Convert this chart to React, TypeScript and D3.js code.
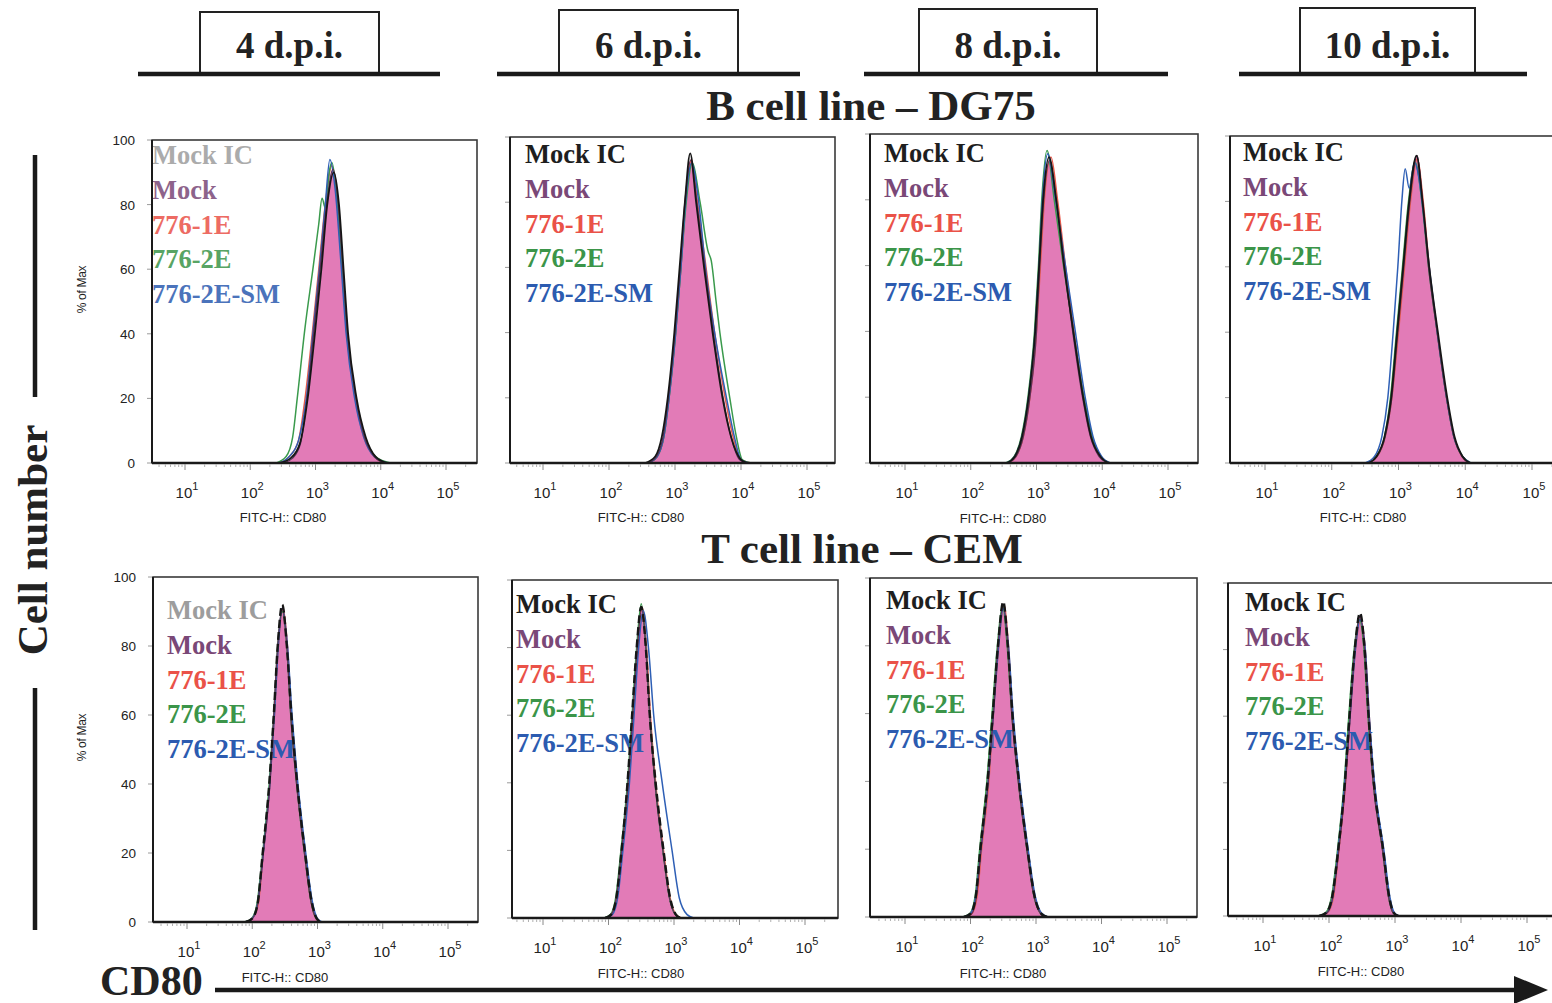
import React from "react";
import * as d3 from "d3";

type Pt = [number, number];

const DAYS = ["4 d.p.i.", "6 d.p.i.", "8 d.p.i.", "10 d.p.i."];
const ROW_TITLES = ["B cell line – DG75", "T cell line – CEM"];
const LEGEND = ["Mock IC", "Mock", "776-1E", "776-2E", "776-2E-SM"];
const Y_TICKS = [0, 20, 40, 60, 80, 100];
const X_EXPONENTS = [1, 2, 3, 4, 5];
const X_LABEL = "FITC-H:: CD80";
const Y_LABEL = "% of Max";

// ---- Histogram data: [log10(FITC-H), % of Max] ----
// B cell line – DG75
const B4_IC: Pt[] = [[2.45,0],[2.62,1.5],[2.76,6],[2.88,20],[2.99,40],[3.09,60],[3.18,80],[3.28,90],[3.36,80],[3.43,60],[3.5,40],[3.63,20],[3.77,8],[3.92,2],[4.1,0]];
const B4_MOCK: Pt[] = [[2.5,0],[2.65,1.5],[2.77,6],[2.87,20],[2.97,40],[3.07,60],[3.17,80],[3.27,91],[3.35,80],[3.42,60],[3.49,40],[3.62,20],[3.75,8],[3.9,2],[4.05,0]];
const B4_E1: Pt[] = [[2.45,0],[2.6,2],[2.74,7],[2.84,20],[2.95,40],[3.05,60],[3.15,80],[3.25,92],[3.33,82],[3.41,60],[3.48,40],[3.61,20],[3.74,8],[3.9,2],[4.05,0]];
const B4_E2: Pt[] = [[2.4,0],[2.55,2],[2.65,8],[2.72,20],[2.84,42],[2.96,60],[3.05,74],[3.1,82],[3.15,79],[3.21,90],[3.25,93],[3.32,84],[3.4,62],[3.48,40],[3.62,20],[3.76,8],[3.92,2],[4.15,0]];
const B4_SM: Pt[] = [[2.45,0],[2.6,2],[2.74,7],[2.86,20],[2.96,40],[3.06,60],[3.15,80],[3.22,94],[3.3,85],[3.39,62],[3.47,40],[3.6,20],[3.74,8],[3.9,2],[4.1,0]];

const B6_IC: Pt[] = [[2.55,0],[2.7,2],[2.8,8],[2.89,20],[2.99,40],[3.07,60],[3.15,80],[3.23,95],[3.32,80],[3.44,60],[3.57,40],[3.72,20],[3.85,8],[4.0,1],[4.1,0]];
const B6_MOCK: Pt[] = [[2.6,0],[2.72,2],[2.82,8],[2.9,20],[3.0,40],[3.08,60],[3.15,80],[3.24,93],[3.33,80],[3.45,60],[3.58,40],[3.73,20],[3.85,8],[3.98,1],[4.1,0]];
const B6_E1: Pt[] = [[2.6,0],[2.73,2],[2.83,8],[2.91,20],[3.01,40],[3.09,60],[3.16,80],[3.25,93],[3.34,80],[3.47,60],[3.6,40],[3.76,20],[3.88,8],[4.0,1],[4.15,0]];
const B6_E2: Pt[] = [[2.6,0],[2.73,2],[2.83,8],[2.91,20],[3.01,40],[3.09,60],[3.17,80],[3.26,92],[3.38,80],[3.5,65],[3.55,62],[3.62,50],[3.68,40],[3.83,20],[3.93,8],[4.02,1],[4.15,0]];
const B6_SM: Pt[] = [[2.6,0],[2.73,2],[2.83,8],[2.91,20],[3.01,40],[3.09,60],[3.16,80],[3.25,92],[3.36,80],[3.46,60],[3.6,40],[3.78,20],[3.9,8],[4.0,1],[4.12,0]];

const B8_IC: Pt[] = [[2.55,0],[2.67,2],[2.78,8],[2.88,20],[2.98,40],[3.04,60],[3.1,80],[3.19,93],[3.3,80],[3.42,60],[3.56,40],[3.71,20],[3.83,8],[3.97,2],[4.1,0]];
const B8_MOCK: Pt[] = [[2.57,0],[2.69,2],[2.8,8],[2.9,20],[3.0,40],[3.05,60],[3.11,80],[3.2,92],[3.3,80],[3.42,60],[3.55,40],[3.7,20],[3.82,8],[3.95,2],[4.08,0]];
const B8_E1: Pt[] = [[2.57,0],[2.69,2],[2.8,8],[2.9,20],[3.0,40],[3.06,60],[3.12,80],[3.22,93],[3.32,80],[3.44,60],[3.57,40],[3.72,20],[3.85,8],[3.98,2],[4.12,0]];
const B8_E2: Pt[] = [[2.53,0],[2.66,2],[2.77,8],[2.87,20],[2.97,40],[3.03,60],[3.08,80],[3.16,95],[3.27,80],[3.41,60],[3.56,40],[3.72,20],[3.85,8],[3.98,2],[4.12,0]];
const B8_SM: Pt[] = [[2.55,0],[2.67,2],[2.78,8],[2.88,20],[2.98,40],[3.04,60],[3.09,80],[3.17,94],[3.29,80],[3.44,60],[3.59,40],[3.74,20],[3.86,8],[3.99,2],[4.12,0]];

const B10_IC: Pt[] = [[2.55,0],[2.67,2],[2.79,8],[2.89,20],[2.98,40],[3.07,60],[3.16,80],[3.27,94],[3.36,80],[3.46,60],[3.59,40],[3.73,20],[3.84,8],[3.96,2],[4.08,0]];
const B10_MOCK: Pt[] = [[2.55,0],[2.68,2],[2.8,8],[2.9,20],[2.99,40],[3.08,60],[3.17,80],[3.28,94],[3.36,80],[3.45,60],[3.58,40],[3.72,20],[3.83,8],[3.95,2],[4.05,0]];
const B10_E1: Pt[] = [[2.55,0],[2.68,2],[2.8,8],[2.9,20],[3.0,40],[3.09,60],[3.18,80],[3.28,93],[3.37,80],[3.46,60],[3.58,40],[3.72,20],[3.83,8],[3.95,2],[4.06,0]];
const B10_E2: Pt[] = [[2.55,0],[2.67,2],[2.79,8],[2.88,20],[2.97,40],[3.06,60],[3.15,80],[3.25,92],[3.35,80],[3.45,60],[3.58,40],[3.72,20],[3.83,8],[3.96,2],[4.08,0]];
const B10_SM: Pt[] = [[2.5,0],[2.64,2],[2.75,8],[2.84,20],[2.92,40],[2.99,60],[3.05,80],[3.1,90],[3.16,84],[3.24,92],[3.3,88],[3.38,75],[3.46,60],[3.58,40],[3.72,20],[3.83,8],[3.96,2],[4.08,0]];

// T cell line – CEM
const T4_IC: Pt[] = [[1.9,0],[2.0,1],[2.08,5],[2.16,20],[2.26,40],[2.33,60],[2.39,80],[2.46,92],[2.53,80],[2.6,60],[2.69,40],[2.81,20],[2.91,6],[2.99,1],[3.06,0]];
const T4_MOCK: Pt[] = [[1.9,0],[2.0,1],[2.08,5],[2.17,20],[2.27,40],[2.33,60],[2.39,80],[2.46,91],[2.53,80],[2.59,60],[2.68,40],[2.8,20],[2.9,6],[2.98,1],[3.05,0]];
const T4_E1: Pt[] = [[1.9,0],[2.0,1],[2.09,5],[2.17,20],[2.27,40],[2.34,60],[2.4,80],[2.47,91],[2.54,80],[2.6,60],[2.69,40],[2.81,20],[2.9,6],[2.98,1],[3.05,0]];
const T4_E2: Pt[] = [[1.88,0],[1.99,1],[2.07,5],[2.16,20],[2.26,40],[2.33,60],[2.39,80],[2.46,90],[2.53,80],[2.59,60],[2.68,40],[2.8,20],[2.9,6],[2.98,1],[3.05,0]];
const T4_SM: Pt[] = [[1.9,0],[2.0,1],[2.08,5],[2.17,20],[2.27,40],[2.34,60],[2.4,80],[2.46,91],[2.54,80],[2.61,60],[2.7,40],[2.82,20],[2.92,6],[3.0,1],[3.07,0]];

const T6_IC: Pt[] = [[1.95,0],[2.04,1],[2.12,6],[2.2,20],[2.29,40],[2.36,60],[2.43,80],[2.5,92],[2.57,80],[2.63,60],[2.72,40],[2.84,20],[2.94,6],[3.03,1],[3.1,0]];
const T6_MOCK: Pt[] = [[1.95,0],[2.04,1],[2.12,6],[2.2,20],[2.3,40],[2.37,60],[2.44,80],[2.51,92],[2.57,80],[2.63,60],[2.71,40],[2.83,20],[2.93,6],[3.02,1],[3.1,0]];
const T6_E1: Pt[] = [[1.95,0],[2.05,1],[2.13,6],[2.21,20],[2.3,40],[2.37,60],[2.44,80],[2.51,92],[2.58,80],[2.64,60],[2.72,40],[2.84,20],[2.94,6],[3.03,1],[3.12,0]];
const T6_E2: Pt[] = [[1.93,0],[2.03,1],[2.11,6],[2.19,20],[2.29,40],[2.36,60],[2.43,80],[2.5,93],[2.57,80],[2.63,60],[2.71,40],[2.83,20],[2.93,6],[3.02,1],[3.1,0]];
const T6_SM: Pt[] = [[1.97,0],[2.06,1],[2.14,6],[2.22,20],[2.32,40],[2.39,60],[2.46,80],[2.53,91],[2.61,80],[2.69,60],[2.82,40],[2.97,20],[3.08,6],[3.2,1],[3.3,0]];

const T8_IC: Pt[] = [[1.9,0],[2.0,1],[2.08,6],[2.15,20],[2.26,40],[2.34,60],[2.42,80],[2.5,93],[2.57,80],[2.64,60],[2.74,40],[2.87,20],[2.98,6],[3.08,1],[3.17,0]];
const T8_MOCK: Pt[] = [[1.92,0],[2.02,1],[2.09,6],[2.16,20],[2.27,40],[2.35,60],[2.42,80],[2.5,92],[2.57,80],[2.63,60],[2.73,40],[2.86,20],[2.97,6],[3.07,1],[3.15,0]];
const T8_E1: Pt[] = [[1.92,0],[2.02,1],[2.1,6],[2.17,20],[2.28,40],[2.35,60],[2.43,80],[2.51,92],[2.58,80],[2.64,60],[2.74,40],[2.87,20],[2.98,6],[3.08,1],[3.16,0]];
const T8_E2: Pt[] = [[1.88,0],[1.99,1],[2.07,6],[2.14,20],[2.25,40],[2.33,60],[2.41,80],[2.49,92],[2.56,80],[2.63,60],[2.73,40],[2.86,20],[2.97,6],[3.07,1],[3.15,0]];
const T8_SM: Pt[] = [[1.9,0],[2.0,1],[2.08,6],[2.16,20],[2.27,40],[2.35,60],[2.43,80],[2.5,91],[2.58,80],[2.65,60],[2.75,40],[2.88,20],[2.99,6],[3.09,1],[3.18,0]];

const T10_IC: Pt[] = [[1.85,0],[1.96,1],[2.05,6],[2.14,20],[2.24,40],[2.31,60],[2.39,80],[2.47,91],[2.54,80],[2.6,60],[2.68,40],[2.82,20],[2.91,6],[2.98,1],[3.05,0]];
const T10_MOCK: Pt[] = [[1.86,0],[1.97,1],[2.06,6],[2.15,20],[2.25,40],[2.32,60],[2.39,80],[2.47,90],[2.54,80],[2.6,60],[2.67,40],[2.81,20],[2.9,6],[2.97,1],[3.04,0]];
const T10_E1: Pt[] = [[1.87,0],[1.98,1],[2.07,6],[2.15,20],[2.25,40],[2.32,60],[2.4,80],[2.48,89],[2.55,80],[2.61,60],[2.68,40],[2.82,20],[2.91,6],[2.98,1],[3.05,0]];
const T10_E2: Pt[] = [[1.84,0],[1.95,1],[2.04,6],[2.13,20],[2.23,40],[2.3,60],[2.38,80],[2.46,89],[2.53,80],[2.59,60],[2.67,40],[2.81,20],[2.9,6],[2.97,1],[3.04,0]];
const T10_SM: Pt[] = [[1.86,0],[1.97,1],[2.06,6],[2.14,20],[2.24,40],[2.32,60],[2.4,80],[2.47,89],[2.55,80],[2.61,60],[2.69,40],[2.83,20],[2.92,6],[2.99,1],[3.06,0]];

const PANEL_DATA = [
  [
    { ic: B4_IC, mock: B4_MOCK, e1: B4_E1, e2: B4_E2, sm: B4_SM },
    { ic: B6_IC, mock: B6_MOCK, e1: B6_E1, e2: B6_E2, sm: B6_SM },
    { ic: B8_IC, mock: B8_MOCK, e1: B8_E1, e2: B8_E2, sm: B8_SM },
    { ic: B10_IC, mock: B10_MOCK, e1: B10_E1, e2: B10_E2, sm: B10_SM },
  ],
  [
    { ic: T4_IC, mock: T4_MOCK, e1: T4_E1, e2: T4_E2, sm: T4_SM },
    { ic: T6_IC, mock: T6_MOCK, e1: T6_E1, e2: T6_E2, sm: T6_SM },
    { ic: T8_IC, mock: T8_MOCK, e1: T8_E1, e2: T8_E2, sm: T8_SM },
    { ic: T10_IC, mock: T10_MOCK, e1: T10_E1, e2: T10_E2, sm: T10_SM },
  ],
];

// ---- Layout (pixels) ----
const LAYOUT = [
  [
    { x0: 152, x1: 477, yT: 140, yB: 463, d1: 185, d5: 446, lx: 152, ly: 164, xl: 522 },
    { x0: 510, x1: 835, yT: 137, yB: 463, d1: 543, d5: 807, lx: 525, ly: 163, xl: 522 },
    { x0: 870, x1: 1198, yT: 134, yB: 463, d1: 905, d5: 1168, lx: 884, ly: 162, xl: 523 },
    { x0: 1230, x1: 1562, yT: 136, yB: 463, d1: 1265, d5: 1532, lx: 1243, ly: 161, xl: 522 },
  ],
  [
    { x0: 153, x1: 478, yT: 577, yB: 922, d1: 187, d5: 448, lx: 167, ly: 619, xl: 982 },
    { x0: 512, x1: 838, yT: 580, yB: 918, d1: 543, d5: 805, lx: 516, ly: 613, xl: 978 },
    { x0: 870, x1: 1197, yT: 578, yB: 917, d1: 905, d5: 1167, lx: 886, ly: 609, xl: 978 },
    { x0: 1228, x1: 1562, yT: 583, yB: 916, d1: 1263, d5: 1527, lx: 1245, ly: 611, xl: 976 },
  ],
];

const HEADERS = [
  { bx0: 200, bx1: 379, by: 12, lx0: 138, lx1: 440 },
  { bx0: 559, bx1: 738, by: 10, lx0: 497, lx1: 800 },
  { bx0: 919, bx1: 1097, by: 9, lx0: 864, lx1: 1168 },
  { bx0: 1300, bx1: 1475, by: 8, lx0: 1239, lx1: 1527 },
];

const SERIF = "'Liberation Serif', 'Times New Roman', serif";
const SANS = "'Liberation Sans', Arial, sans-serif";
const PINK = "#e27bb7";
const LEG_COLORS = ["#1e1e1e", "#7a4877", "#ea5248", "#3b9549", "#2c5bb0"];
const LINE = { e1: "#e85a4c", e2: "#3a9a4c", sm: "#2e5fb5", mock: "#5c2f58", ic: "#161616" };

function Panel({ row, col }: { row: number; col: number }) {
  const L = LAYOUT[row][col];
  const D = PANEL_DATA[row][col];
  const x = d3.scaleLog().domain([10, 100000]).range([L.d1, L.d5]);
  const y = d3.scaleLinear().domain([0, 100]).range([L.yB, L.yT]);
  const line = d3
    .line<Pt>()
    .x((d) => x(Math.pow(10, d[0])))
    .y((d) => y(d[1]))
    .curve(d3.curveMonotoneX);
  const area = d3
    .area<Pt>()
    .x((d) => x(Math.pow(10, d[0])))
    .y0(y(0))
    .y1((d) => y(d[1]))
    .curve(d3.curveMonotoneX);
  const leftCol = col === 0;
  const minor: number[] = [];
  for (let e = 0; e <= 5; e++) for (let m = 2; m <= 9; m++) {
    const v = m * Math.pow(10, e);
    const px = x(v);
    if (px > L.x0 + 2 && px < L.x1 - 2) minor.push(px);
  }
  const legColors = LEG_COLORS.map((c, i) => (leftCol && i === 0 ? "#9d9d9d" : c));
  const clipId = `clip-${row}-${col}`;
  return (
    <g>
      <defs>
        <clipPath id={clipId}>
          <rect x={L.x0} y={L.yT} width={L.x1 - L.x0} height={L.yB - L.yT} />
        </clipPath>
      </defs>
      {/* curves */}
      <g clipPath={`url(#${clipId})`}>
        <path d={area(D.mock) || ""} fill={PINK} stroke="none" />
      </g>
      {/* legend */}
      {LEGEND.map((t, i) => (
        <text key={t} x={L.lx} y={L.ly + i * 34.8} fontFamily={SERIF} fontWeight="bold" fontSize={26.5} fill={legColors[i]} opacity={leftCol && row === 0 ? 0.85 : 1}>
          {t}
        </text>
      ))}
      <g clipPath={`url(#${clipId})`}>
        <path d={line(D.e1) || ""} fill="none" stroke={LINE.e1} strokeWidth={1.5} />
        <path d={line(D.e2) || ""} fill="none" stroke={LINE.e2} strokeWidth={1.5} />
        <path d={line(D.sm) || ""} fill="none" stroke={LINE.sm} strokeWidth={1.5} />
        <path d={line(D.mock) || ""} fill="none" stroke={LINE.mock} strokeWidth={1.3} />
        {row === 0 ? (
          <path d={line(D.ic) || ""} fill="none" stroke={LINE.ic} strokeWidth={1.8} />
        ) : (
          <path d={line(D.ic) || ""} fill="none" stroke={LINE.ic} strokeWidth={2.4} strokeDasharray="8,4" />
        )}
      </g>
      {/* frame */}
      <rect x={L.x0} y={L.yT} width={L.x1 - L.x0} height={L.yB - L.yT} fill="none" stroke="#3a3a3a" strokeWidth={1.6} />
      <line x1={L.x0} x2={L.x1} y1={L.yB} y2={L.yB} stroke="#1a1a1a" strokeWidth={2.4} />
      <line x1={L.x0} x2={L.x0} y1={L.yT} y2={L.yB} stroke="#1a1a1a" strokeWidth={2} />
      {/* y ticks */}
      {Y_TICKS.map((t) => (
        <g key={t}>
          <line x1={L.x0 - 5} x2={L.x0 - 1} y1={y(t)} y2={y(t)} stroke="#9a9a9a" strokeWidth={1} />
          {leftCol && (
            <text x={L.x0 - 17} y={y(t) + 5} textAnchor="end" fontFamily={SANS} fontSize={13.5} fill="#222">
              {t}
            </text>
          )}
        </g>
      ))}
      {leftCol && (
        <text transform={`translate(86,${(L.yT + L.yB) / 2 - 12}) rotate(-90)`} textAnchor="middle" fontFamily={SANS} fontSize={12} fill="#222" letterSpacing={-0.3}>
          {Y_LABEL}
        </text>
      )}
      {/* x ticks */}
      {minor.map((px, i) => (
        <line key={i} x1={px} x2={px} y1={L.yB + 1} y2={L.yB + 4} stroke="#b0b0b0" strokeWidth={1} />
      ))}
      {X_EXPONENTS.map((e) => {
        const px = x(Math.pow(10, e));
        return (
          <g key={e}>
            <line x1={px} x2={px} y1={L.yB + 1} y2={L.yB + 7} stroke="#8a8a8a" strokeWidth={1} />
            <text x={px + 2} y={L.yB + 35} textAnchor="middle" fontFamily={SANS} fontSize={15} fill="#222">
              10
              <tspan dy={-8} fontSize={11}>
                {e}
              </tspan>
            </text>
          </g>
        );
      })}
      <text x={L.d1 + 98} y={L.xl} textAnchor="middle" fontFamily={SANS} fontSize={13} fill="#222">
        {X_LABEL}
      </text>
    </g>
  );
}

export default function App() {
  return (
    <svg width={1552} height={1003} style={{ position: "absolute", left: 0, top: 0, background: "#fff" }}>
      <rect x={0} y={0} width={1552} height={1003} fill="#fff" />
      {/* headers */}
      {HEADERS.map((h, i) => (
        <g key={i}>
          <rect x={h.bx0} y={h.by} width={h.bx1 - h.bx0} height={74 - h.by} fill="#fff" stroke="#222" strokeWidth={2} />
          <line x1={h.lx0} x2={h.lx1} y1={74} y2={74} stroke="#1a1a1a" strokeWidth={4.5} />
          <text x={(h.bx0 + h.bx1) / 2} y={58} textAnchor="middle" fontFamily={SERIF} fontWeight="bold" fontSize={37} fill="#222">
            {DAYS[i]}
          </text>
        </g>
      ))}
      <text x={871} y={120} textAnchor="middle" fontFamily={SERIF} fontWeight="bold" fontSize={43} fill="#222">
        {ROW_TITLES[0]}
      </text>
      <text x={862} y={563} textAnchor="middle" fontFamily={SERIF} fontWeight="bold" fontSize={43} fill="#222">
        {ROW_TITLES[1]}
      </text>
      {/* left label */}
      <line x1={35} x2={35} y1={155} y2={397} stroke="#1a1a1a" strokeWidth={4.5} />
      <line x1={35} x2={35} y1={688} y2={930} stroke="#1a1a1a" strokeWidth={4.5} />
      <text transform="translate(47,540) rotate(-90)" textAnchor="middle" fontFamily={SERIF} fontWeight="bold" fontSize={43} fill="#222">
        Cell number
      </text>
      {/* panels */}
      {[0, 1].map((r) => [0, 1, 2, 3].map((c) => <Panel key={`${r}-${c}`} row={r} col={c} />))}
      {/* bottom CD80 arrow */}
      <text x={100} y={995} fontFamily={SERIF} fontWeight="bold" fontSize={42} fill="#222">
        CD80
      </text>
      <line x1={215} x2={1522} y1={990} y2={990} stroke="#1a1a1a" strokeWidth={4.5} />
      <polygon points="1514,976 1548,990 1514,1004" fill="#1a1a1a" />
    </svg>
  );
}
